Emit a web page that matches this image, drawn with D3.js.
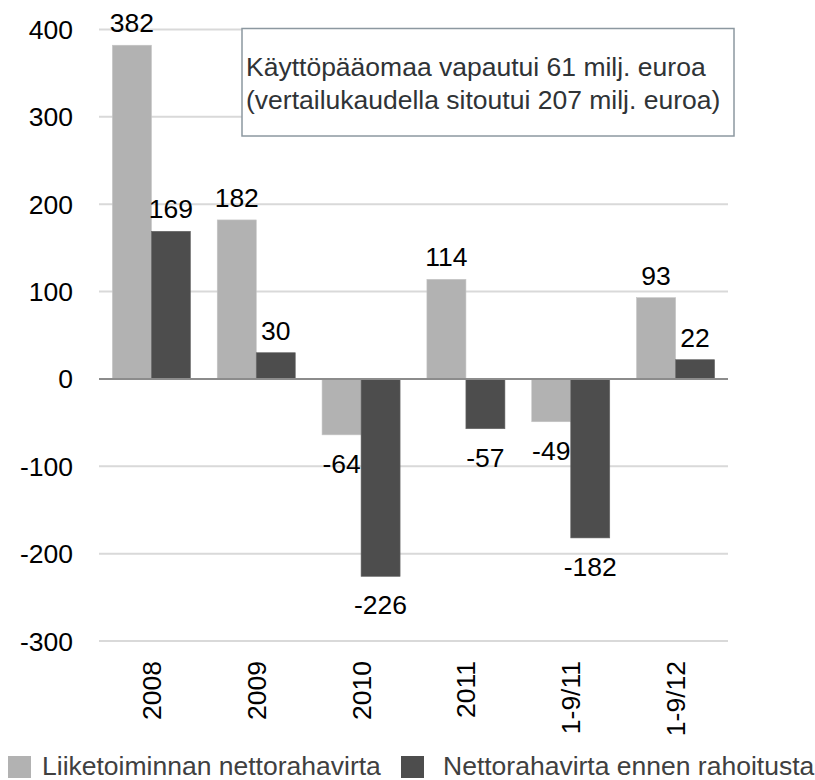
<!DOCTYPE html>
<html>
  <head>
    <meta charset="utf-8">
    <style>
      body { margin: 0; background: #fff; }
      text { font-family: "Liberation Sans", Arial, sans-serif; }
      .grid line { stroke: #d9d9d9; stroke-width: 2px; }
    </style>
  </head>
  <body>
    <svg width="815" height="780"></svg>
    <script src="https://d3js.org/d3.v7.min.js"></script>
    <script>
      var categories = ["2008", "2009", "2010", "2011", "1-9/11", "1-9/12"];
      var seriesNames = ["Liiketoiminnan nettorahavirta", "Nettorahavirta ennen rahoitusta"];
      var operating = [382, 182, -64, 114, -49, 93];
      var beforeFinancing = [169, 30, -226, -57, -182, 22];
      var yTicks = [400, 300, 200, 100, 0, -100, -200, -300];
      var noteLines = ["Käyttöpääomaa vapautui 61 milj. euroa", "(vertailukaudella sitoutui 207 milj. euroa)"];
      var colors = ["#b2b2b2", "#4d4d4d"];

      var svg = d3.select("svg");
      var fs = 26.5;

      var y = d3.scaleLinear().domain([-300, 400]).range([641, 29.5]);
      var x0 = d3.scaleBand().domain(categories).range([99, 728]).paddingInner(0.256).paddingOuter(0.128);
      var x1 = d3.scaleBand().domain([0, 1]).range([0, x0.bandwidth()]);

      // gridlines
      svg.append("g").attr("class", "grid")
        .selectAll("line")
        .data(yTicks.filter(function(d) { return d !== 0; }))
        .enter().append("line")
        .attr("x1", 99).attr("x2", 728)
        .attr("y1", function(d) { return y(d); })
        .attr("y2", function(d) { return y(d); });

      // y tick labels
      svg.append("g")
        .selectAll("text")
        .data(yTicks)
        .enter().append("text")
        .attr("x", 73)
        .attr("y", function(d) { return y(d) + 9.5; })
        .attr("text-anchor", "end")
        .attr("font-size", fs)
        .attr("fill", "#000")
        .text(function(d) { return d; });

      var series = [operating, beforeFinancing];

      series.forEach(function(values, s) {
        var rows = categories.map(function(c, i) { return { cat: c, v: values[i] }; });

        svg.append("g")
          .selectAll("rect")
          .data(rows)
          .enter().append("rect")
          .attr("x", function(d) { return x0(d.cat) + x1(s); })
          .attr("width", x1.bandwidth())
          .attr("y", function(d) { return y(Math.max(0, d.v)); })
          .attr("height", function(d) { return Math.abs(y(d.v) - y(0)); })
          .attr("fill", colors[s])
          .attr("stroke", s === 0 ? "#c4c4c4" : "#666")
          .attr("stroke-width", 0.6);

        svg.append("g")
          .selectAll("text")
          .data(rows)
          .enter().append("text")
          .attr("x", function(d) { return x0(d.cat) + x1(s) + x1.bandwidth() / 2; })
          .attr("y", function(d) { return d.v >= 0 ? y(d.v) - 13 : y(d.v) + 38; })
          .attr("text-anchor", "middle")
          .attr("font-size", fs)
          .attr("fill", "#000")
          .text(function(d) { return d.v; });
      });

      // zero line
      svg.append("line")
        .attr("x1", 99).attr("x2", 728)
        .attr("y1", y(0)).attr("y2", y(0))
        .attr("stroke", "#8c8c8c").attr("stroke-width", 2);

      // category labels, rotated
      svg.append("g")
        .selectAll("text")
        .data(categories)
        .enter().append("text")
        .attr("transform", function(d) {
          return "translate(" + (x0(d) + x0.bandwidth() / 2 + 9.5) + ",661) rotate(-90)";
        })
        .attr("text-anchor", "end")
        .attr("font-size", fs)
        .attr("fill", "#000")
        .text(function(d) { return d; });

      // note box
      svg.append("rect")
        .attr("x", 242).attr("y", 28.5)
        .attr("width", 492).attr("height", 107.5)
        .attr("fill", "#fff")
        .attr("stroke", "#8c98a0").attr("stroke-width", 1.5);

      svg.append("g")
        .selectAll("text")
        .data(noteLines)
        .enter().append("text")
        .attr("x", 246)
        .attr("y", function(d, i) { return 76 + i * 33; })
        .attr("font-size", fs)
        .attr("fill", "#2f3336")
        .text(function(d) { return d; });

      // legend
      var legendX = [8, 401];
      var legendTextX = [34, 42];
      var legend = svg.append("g")
        .selectAll("g")
        .data(seriesNames)
        .enter().append("g")
        .attr("transform", function(d, i) { return "translate(" + legendX[i] + ",756)"; });

      legend.append("rect")
        .attr("width", 23).attr("height", 22)
        .attr("fill", function(d, i) { return colors[i]; });

      legend.append("text")
        .attr("x", function(d, i) { return legendTextX[i]; })
        .attr("y", 19)
        .attr("font-size", fs)
        .attr("fill", "#404040")
        .text(function(d) { return d; });
    </script>
  </body>
</html>
